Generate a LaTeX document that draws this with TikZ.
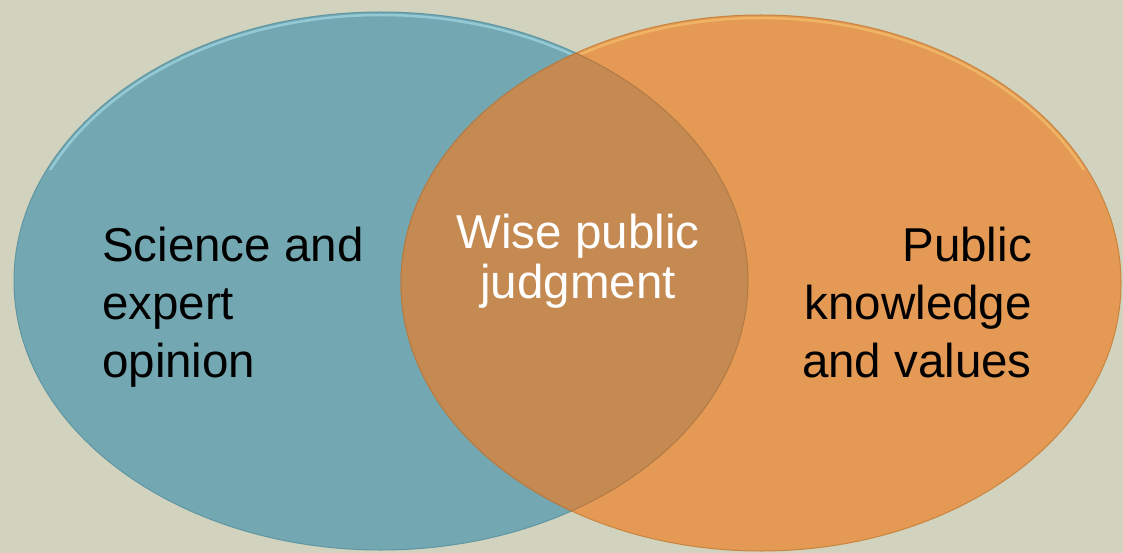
\documentclass[tikz,border=0pt]{standalone}
\usepackage{fontspec}
\setmainfont{Liberation Sans}
\definecolor{bgc}{HTML}{D1D3BE}
\definecolor{tealc}{HTML}{73A8B2}
\definecolor{tealedge}{HTML}{5F96A2}
\definecolor{tealhi}{HTML}{9DD3DE}
\definecolor{orangec}{HTML}{E49954}
\definecolor{orangeedge}{HTML}{C9853F}
\definecolor{orangehi}{HTML}{F2BC6A}
\definecolor{overlapc}{HTML}{C48A52}
\definecolor{overlapedge}{HTML}{B27A45}
\tikzset{
  blacklbl/.style={font=\fontsize{47.5}{58}\selectfont, text=black, inner sep=0pt},
  whitelbl/.style={font=\fontsize{47.5}{50}\selectfont, text=white, inner sep=0pt},
}
\begin{document}
\begin{tikzpicture}[x=1pt,y=-1pt]
\fill[bgc] (0,0) rectangle (1123,553);
\useasboundingbox (0,0) rectangle (1123,553);
\coordinate (lc) at (381,281);
\coordinate (rc) at (761,283);
% left ellipse
\fill[tealc] (lc) ellipse [x radius=367, y radius=269];
\begin{scope}
  \clip (0,0) rectangle (1123,170);
  \draw[tealhi, line width=2.5pt, opacity=0.8] (lc) ellipse [x radius=364, y radius=266];
\end{scope}
\draw[tealedge, line width=1pt] (lc) ellipse [x radius=367, y radius=269];
% right ellipse
\fill[orangec] (rc) ellipse [x radius=360, y radius=268];
\begin{scope}
  \clip (0,0) rectangle (1123,170);
  \draw[orangehi, line width=2.5pt, opacity=0.8] (rc) ellipse [x radius=357, y radius=265];
\end{scope}
\draw[orangeedge, line width=1pt] (rc) ellipse [x radius=360, y radius=268];
% overlap
\begin{scope}
  \clip (rc) ellipse [x radius=360, y radius=268];
  \fill[overlapc] (lc) ellipse [x radius=367, y radius=269];
  \draw[overlapedge, line width=1pt] (lc) ellipse [x radius=367, y radius=269];
\end{scope}
\begin{scope}
  \clip (lc) ellipse [x radius=367, y radius=269];
  \draw[overlapedge, line width=1pt] (rc) ellipse [x radius=360, y radius=268];
\end{scope}
% labels (base anchor = baseline of last line)
\node[blacklbl, anchor=base west, align=left] (sci) at (102,377) {Science and\\expert\\opinion};
\node[whitelbl, anchor=base, align=center] (wise) at (578,298) {Wise public\\judgment};
\node[blacklbl, anchor=base east, align=right] (pub) at (1032,377) {Public\\knowledge\\and values};
\end{tikzpicture}
\end{document}
